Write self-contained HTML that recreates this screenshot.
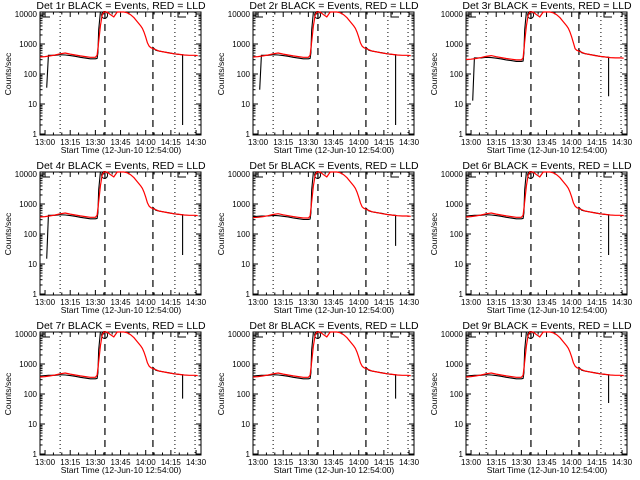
<!DOCTYPE html>
<html><head><meta charset="utf-8"><style>
html,body{margin:0;padding:0;background:#fff;}
svg{display:block;font-family:"Liberation Sans",sans-serif;}
</style></head><body>
<svg id="fig" width="640" height="480" viewBox="0 0 640 480"></svg>
<script>
// ---- data (minutes relative to 13:00, counts/sec) ----
const redTimes = [-3,0,3,6,9,12,15,18,21,24,27,30,31,32,33,34,35,37,39,41,43,45,47,49,51,53,55,57,58,59,60,61,62,63,64,65,68,71,74,77,80,83,86,89,91];
const redValues = [370,380,400,430,470,500,460,430,400,380,360,360,420,1200,4000,9000,12000,12000,9500,8000,12000,12000,12000,11000,9500,7500,5500,4000,3300,2500,1700,1100,850,760,720,680,580,540,500,470,450,430,420,420,410];
const blackPreTimes = [2,6,9,12,15,18,21,24,27,30,31,31.5,32,33];
const blackPreValues = [420,420,440,430,410,390,360,340,320,320,330,500,3000,12000];
const blackPostTimes = [64,66,68,71,74,77,80,82];
const blackPostValues = [800,620,580,540,510,470,450,440];
const detectorNames = ["1r","2r","3r","4r","5r","6r","7r","8r","9r"];
const panelLevel = [1.0,1.0,0.82,1.0,0.95,1.0,1.0,1.0,1.0];
const startDrops = [35,30,13,15,0,0,0,0,0];
const endDrops = [2,2,18,20,40,20,70,70,50];
const dottedTimes = [9,77.4,89.4];
const dashedTimes = [35.7,64.3];
const xTickLabels = ["13:00","13:15","13:30","13:45","14:00","14:15","14:30"];
const xTickTimes = [0,15,30,45,60,75,90];
const yTickLabels = ["1","10","100","1000","10000"];
const yTickValues = [1,10,100,1000,10000];

const NS="http://www.w3.org/2000/svg";
const fig=document.getElementById('fig');
function mk(tag,attrs,parent){const e=document.createElementNS(NS,tag);for(const k in attrs)e.setAttribute(k,attrs[k]);parent.appendChild(e);return e;}
const L=40,R=201,T=12,B=135;
function xs(t){return L+(t+3)*1.678;}
function ys(v){let y=134-Math.log10(Math.max(v,0.5))*30;return Math.max(T,Math.min(B,y));}

for(let p=0;p<9;p++){
  const ox=(p%3)*213, oy=Math.floor(p/3)*160;
  const g=mk('g',{transform:`translate(${ox},${oy})`},fig);
  
  
  const title=mk('text',{x:121,y:9,'font-size':10.5,'text-anchor':'middle',fill:'#000'},g);
  title.textContent=`Det ${detectorNames[p]} BLACK = Events, RED = LLD`;
  
  
  const yl=mk('text',{x:0,y:0,'font-size':8.5,'text-anchor':'middle',transform:'translate(11,74) rotate(-90)'},g);
  yl.textContent='Counts/sec';
  
  
  const xl=mk('text',{x:121,y:153,'font-size':8.5,'text-anchor':'middle'},g);
  xl.textContent='Start Time (12-Jun-10 12:54:00)';
  
  
  const box=mk('rect',{x:L,y:T,width:R-L,height:B-T,fill:'none',stroke:'#000','stroke-width':1},g);
  
  
  yTickValues.forEach((v,i)=>{
    const y=ys(v);
    mk('line',{x1:L,x2:L+5,y1:y,y2:y,stroke:'#000'},g);
    mk('line',{x1:R-5,x2:R,y1:y,y2:y,stroke:'#000'},g);
    const t=mk('text',{x:37,y:y+3,'font-size':8,'text-anchor':'end'},g);
    t.textContent=yTickLabels[i];
    
    
    if(i<yTickValues.length-1)for(let m=2;m<10;m++){const yy=ys(v*m);mk('line',{x1:L,x2:L+2.5,y1:yy,y2:yy,stroke:'#000'},g);mk('line',{x1:R-2.5,x2:R,y1:yy,y2:yy,stroke:'#000'},g);}
  });
  xTickTimes.forEach((tt,i)=>{
    const x=xs(tt);
    mk('line',{x1:x,x2:x,y1:B,y2:B-5,stroke:'#000'},g);
    mk('line',{x1:x,x2:x,y1:T,y2:T+5,stroke:'#000'},g);
    const t=mk('text',{x:x,y:145,'font-size':8,'text-anchor':'middle'},g);
    t.textContent=xTickLabels[i];
    
    
  });
  for(let tt=0;tt<=90;tt+=5){if(tt%15){const x=xs(tt);mk('line',{x1:x,x2:x,y1:B,y2:B-2.5,stroke:'#000'},g);mk('line',{x1:x,x2:x,y1:T,y2:T+2.5,stroke:'#000'},g);}}
  dottedTimes.forEach(tt=>{const l=mk('line',{x1:xs(tt),x2:xs(tt),y1:T,y2:B,stroke:'#000','stroke-dasharray':'1,3'},g);});
  dashedTimes.forEach(tt=>{const l=mk('line',{x1:xs(tt),x2:xs(tt),y1:T,y2:B,stroke:'#000','stroke-dasharray':'7,5','stroke-width':1.2},g);});
  mk('path',{d:`M43 ${T} V17 H50 M178 ${T} V17 H186`,fill:'none',stroke:'#000'},g);
  const lv=panelLevel[p];
  let pts=[];
  if(startDrops[p])pts.push([1,startDrops[p]]);
  blackPreTimes.forEach((t,i)=>{pts.push([t,blackPreValues[i]*(t<31.5?lv:1)]);});
  if(!startDrops[p])pts.unshift([-3,blackPreValues[0]*lv*0.95]);
  let d='';pts.forEach((q,i)=>{d+=(i?'L':'M')+xs(q[0]).toFixed(1)+' '+ys(q[1]).toFixed(1);});
  const b1=mk('path',{d:d,fill:'none',stroke:'#000','stroke-width':1.1},g);
  
  
  mk('ellipse',{cx:xs(35.5),cy:T+3,rx:3,ry:3.5,fill:'none',stroke:'#000'},g);
  let pts2=blackPostTimes.map((t,i)=>[t,blackPostValues[i]*lv]);pts2.push([82,endDrops[p]]);
  d='';pts2.forEach((q,i)=>{d+=(i?'L':'M')+xs(q[0]).toFixed(1)+' '+ys(q[1]).toFixed(1);});
  const b2=mk('path',{d:d,fill:'none',stroke:'#000','stroke-width':1.1},g);
  
  
  d='';redTimes.forEach((t,i)=>{const v=redValues[i]*((redValues[i]<1000)?lv:1);d+=(i?'L':'M')+xs(t).toFixed(1)+' '+ys(v).toFixed(1);});
  const r=mk('path',{d:d,fill:'none',stroke:'#f00','stroke-width':1.2},g);
  
  
}
</script>
</body></html>
